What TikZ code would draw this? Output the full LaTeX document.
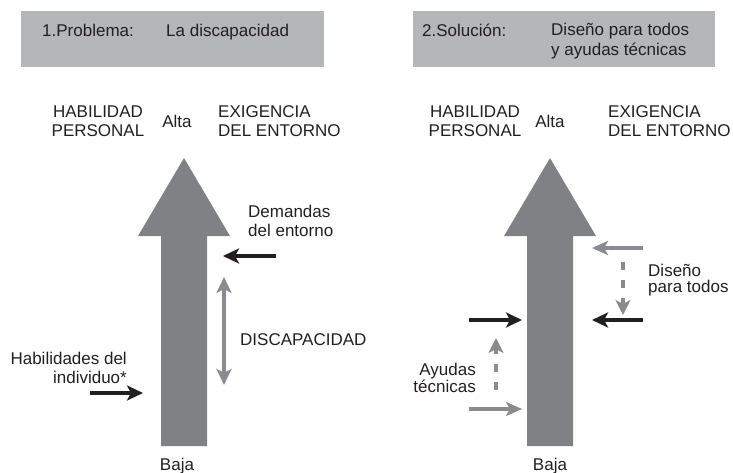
\documentclass[tikz,border=0pt]{standalone}
\usepackage{fontspec}
\setmainfont{Liberation Sans}
\usetikzlibrary{
    arrows.meta,
    positioning
}
\definecolor{boxgray}{HTML}{B5B6B8}
\definecolor{shaftgray}{HTML}{808184}
\definecolor{linegray}{HTML}{8A8B8E}
\definecolor{inkblack}{HTML}{231F20}
\tikzset {
    title box/.style = {fill = boxgray, inner sep = 0pt, anchor = north west},
    txt/.style = {font = \fontsize{17}{19}\selectfont, inner sep = 0pt, text = inkblack},
    %
    black arrow/.style = {
        draw = inkblack, line width = 4pt,
        -{Stealth[length = 16pt, width = 15pt, inset = 4pt]}
    },
    gray arrow/.style = {
        draw = linegray, line width = 3.5pt,
        -{Stealth[length = 16pt, width = 14pt, inset = 4pt]}
    },
    both arrow/.style = {
        draw = linegray, line width = 3.5pt,
        {Stealth[length = 16pt, width = 15pt, inset = 4pt]}-{Stealth[length = 16pt, width = 15pt, inset = 4pt]}
    },
    dashed arrow/.style = {
        draw = linegray, line width = 4.5pt, dash pattern = on 8pt off 10pt,
        -{Stealth[length = 15pt, width = 15pt, inset = 4pt]}
    },
    big arrow/.pic = {
        \fill [shaftgray] (0, 0) -- (46, 78) -- (23, 78) -- (23, 288)
            -- (-23, 288) -- (-23, 78) -- (-46, 78) -- cycle;
    }
}

\begin{document}
\begin{tikzpicture}[x = 1pt, y = -1pt]
    \useasboundingbox (0, 0) rectangle (733, 473);

    % 1. problema
    \node (probbox) [title box, minimum width = 303pt, minimum height = 56pt] at (21, 11) {};
    \node (prob) [txt, anchor = base west] at (42, 37) {1.Problema:};
    \node (probtxt) [txt, anchor = base west] at (166, 37) {La discapacidad};
    \node (habl) [txt, anchor = base, align = center] at (98, 137) {HABILIDAD\\PERSONAL};
    \node (altal) [txt, anchor = base] at (177, 128) {Alta};
    \node (exil) [txt, anchor = base west, align = left] at (218, 137) {EXIGENCIA\\DEL ENTORNO};
    \pic at (184, 158) {big arrow};
    \node (bajal) [txt, anchor = base] at (177, 470) {Baja};

    \node (dem) [txt, anchor = base west, align = left] at (248, 236) {Demandas\\del entorno};
    \coordinate (dem a) at (276, 256);
    \coordinate (dem b) at (223, 256);
    \draw [black arrow] (dem a) -- (dem b);

    \coordinate (dis a) at (224, 277);
    \coordinate (dis b) at (224, 385);
    \draw [both arrow] (dis a) -- (dis b);
    \node (dis) [txt, anchor = base west] at (240, 345) {DISCAPACIDAD};

    \node (hab) [txt, anchor = base east, align = right] at (127, 383) {Habilidades del\\individuo*};
    \coordinate (hab a) at (90, 393);
    \coordinate (hab b) at (143, 393);
    \draw [black arrow] (hab a) -- (hab b);

    % 2. solucion
    \node (solbox) [title box, minimum width = 302pt, minimum height = 56pt] at (413, 11) {};
    \node (sol) [txt, anchor = base west] at (422, 37) {2.Solución:};
    \node (soltxt) [txt, anchor = base west, align = left, font = \fontsize{17}{20}\selectfont]
        at (551, 56) {Diseño para todos\\y ayudas técnicas};
    \node (habr) [txt, anchor = base, align = center] at (475, 137) {HABILIDAD\\PERSONAL};
    \node (altar) [txt, anchor = base] at (550, 128) {Alta};
    \node (exir) [txt, anchor = base west, align = left] at (608, 137) {EXIGENCIA\\DEL ENTORNO};
    \pic at (550, 158) {big arrow};
    \node (bajar) [txt, anchor = base] at (550, 470) {Baja};

    \coordinate (dt a) at (643, 248);
    \coordinate (dt b) at (592, 248);
    \draw [gray arrow] (dt a) -- (dt b);
    \coordinate (dt c) at (623, 262);
    \coordinate (dt d) at (623, 315);
    \draw [dashed arrow] (dt c) -- (dt d);
    \node (dt) [txt, anchor = base west, align = left, font = \fontsize{17}{16}\selectfont]
        at (648, 292) {Diseño\\para todos};
    \coordinate (env a) at (643, 320);
    \coordinate (env b) at (592, 320);
    \draw [black arrow] (env a) -- (env b);

    \coordinate (ind a) at (469, 320);
    \coordinate (ind b) at (522, 320);
    \draw [black arrow] (ind a) -- (ind b);
    \coordinate (at c) at (496, 390);
    \coordinate (at d) at (496, 338);
    \draw [dashed arrow] (at c) -- (at d);
    \node (at) [txt, anchor = base east, align = right, font = \fontsize{17}{17}\selectfont]
        at (476, 392) {Ayudas\\técnicas};
    \coordinate (at a) at (469, 409);
    \coordinate (at b) at (522, 409);
    \draw [gray arrow] (at a) -- (at b);
\end{tikzpicture}
\end{document}
